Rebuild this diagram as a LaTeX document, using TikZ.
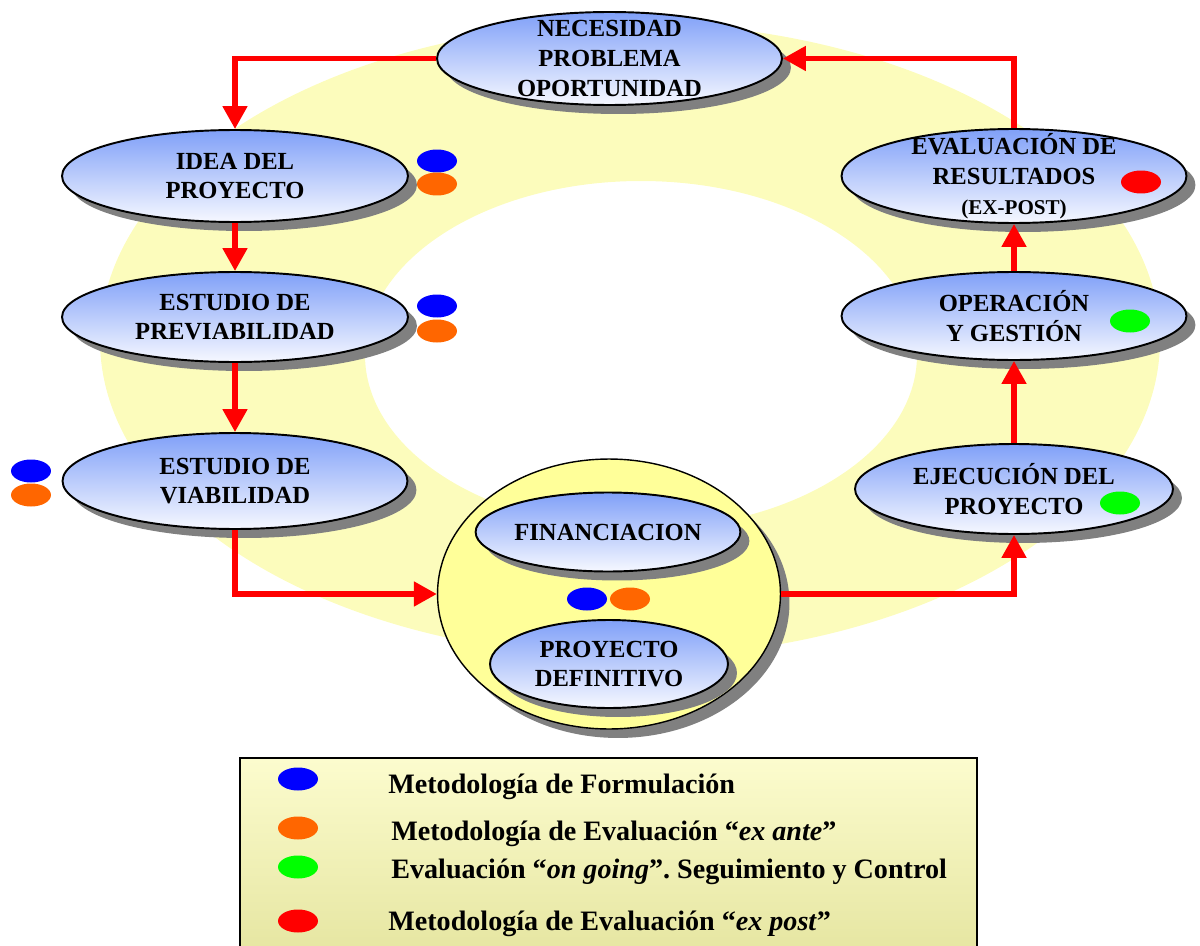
\documentclass[tikz,border=0pt]{standalone}
\usepackage{fontspec}
\setmainfont{Liberation Serif}
\usetikzlibrary{shapes.geometric}
\usetikzlibrary{shadows}
\usetikzlibrary{arrows.meta}

\definecolor{azulsup}{RGB}{128,160,248}
\definecolor{azulinf}{RGB}{246,248,255}
\definecolor{sombra}{RGB}{128,128,128}
\definecolor{anillo}{RGB}{252,252,188}
\definecolor{amarillo}{RGB}{255,255,153}
\definecolor{naranja}{RGB}{255,102,0}
\definecolor{verde}{RGB}{0,255,0}
\definecolor{azul}{RGB}{0,0,255}
\definecolor{rojo}{RGB}{255,0,0}
\definecolor{leysup}{RGB}{252,252,206}
\definecolor{leyinf}{RGB}{230,230,162}

\tikzset{
  etapa/.style={ellipse,draw,line width=1.1pt,top color=azulsup,bottom color=azulinf,
    drop shadow={shadow xshift=0.18cm,shadow yshift=-0.18cm,fill=sombra,opacity=1},
    inner xsep=0pt,inner ysep=-8pt,align=center,
    font=\fontsize{14}{17}\selectfont\bfseries},
  grupo/.style={ellipse,draw,line width=0.8pt,fill=amarillo,
    drop shadow={shadow xshift=0.18cm,shadow yshift=-0.18cm,fill=sombra,opacity=1}},
  punto/.style={ellipse,inner sep=0pt,minimum width=0.8cm,minimum height=0.46cm},
  flecha/.style={->,draw=rojo,line width=3pt},
  cuadro/.style={rectangle,draw,line width=1.1pt,top color=leysup,bottom color=leyinf},
  ley/.style={anchor=base west,inner sep=0pt,font=\fontsize{16}{19}\selectfont\bfseries},
}

\begin{document}
\begin{tikzpicture}[x=0.02cm,y=-0.02cm,>={Triangle[length=13pt,width=13.5pt]}]
\useasboundingbox (0,0) rectangle (1200,946);
\fill[anillo,even odd rule] (630,340) ellipse [x radius=530,y radius=317]
    (641,355) ellipse [x radius=276,y radius=174];

\node[etapa,minimum width=6.9cm,minimum height=1.86cm] (nec) at (609.5,58.5) {NECESIDAD\\PROBLEMA\\OPORTUNIDAD};
\node[etapa,minimum width=6.92cm,minimum height=1.84cm] (idea) at (235,176) {IDEA DEL\\PROYECTO};
\node[etapa,minimum width=6.92cm,minimum height=1.8cm] (previa) at (235,317) {ESTUDIO DE\\PREVIABILIDAD};
\node[etapa,minimum width=6.9cm,minimum height=1.92cm] (viab) at (235,481) {ESTUDIO DE\\VIABILIDAD};

\node[grupo,minimum width=6.86cm,minimum height=5.4cm] (conj) at (609,594) {};
\node[etapa,minimum width=4.94cm,minimum height=1.58cm] (finan) at (608,532) {FINANCIACION};
\node[etapa,minimum width=4.76cm,minimum height=1.76cm] (defin) at (609,664) {PROYECTO\\DEFINITIVO};

\node[etapa,minimum width=6.36cm,minimum height=1.8cm] (ejec) at (1014,489) {EJECUCIÓN DEL\\PROYECTO};
\node[etapa,minimum width=6.9cm,minimum height=1.76cm] (oper) at (1014,316) {OPERACIÓN\\Y GESTIÓN};
\node[etapa,minimum width=6.9cm,minimum height=1.88cm] (evalu) at (1014,176) {EVALUACIÓN DE\\RESULTADOS\\{\fontsize{12}{14}\selectfont (EX-POST)}};

\node[punto,fill=azul] (idea-a) at (437,161) {};
\node[punto,fill=naranja] (idea-b) at (437,184) {};
\node[punto,fill=azul] (previa-a) at (437,306) {};
\node[punto,fill=naranja] (previa-b) at (437,331) {};
\node[punto,fill=azul] (viab-a) at (31,471) {};
\node[punto,fill=naranja] (viab-b) at (31,495) {};
\node[punto,fill=azul] (conj-a) at (587,599) {};
\node[punto,fill=naranja] (conj-b) at (630,599) {};
\node[punto,fill=verde] (ejec-a) at (1120,503) {};
\node[punto,fill=verde] (oper-a) at (1130,321) {};
\node[punto,fill=rojo] (evalu-a) at (1141,182) {};

\draw[flecha] (nec.west) -| (idea.north);
\draw[flecha] (idea.south) -- (previa.north);
\draw[flecha] (previa.south) -- (viab.north);
\draw[flecha] (viab.south) |- (conj.west);
\draw[flecha] (conj.east) -| (ejec.south);
\draw[flecha] (ejec.north) -- (oper.south);
\draw[flecha] (oper.north) -- (evalu.south);
\draw[flecha] (evalu.north) |- (nec.east);

\node[cuadro,minimum width=14.74cm,minimum height=3.84cm] (leyenda) at (608.5,854) {};
\node[punto,fill=azul] (ley-a) at (298,779) {};
\node[ley] (ley-ta) at (388,793) {Metodología de Formulación};
\node[punto,fill=naranja] (ley-b) at (298,828) {};
\node[ley] (ley-tb) at (391,840) {Metodología de Evaluación “\textit{ex ante}”};
\node[punto,fill=verde] (ley-c) at (298,867) {};
\node[ley] (ley-tc) at (391,878) {Evaluación “\textit{on going}”.\ Seguimiento y Control};
\node[punto,fill=rojo] (ley-d) at (298,921) {};
\node[ley] (ley-td) at (388,930) {Metodología de Evaluación “\textit{ex post}”};
\end{tikzpicture}
\end{document}
